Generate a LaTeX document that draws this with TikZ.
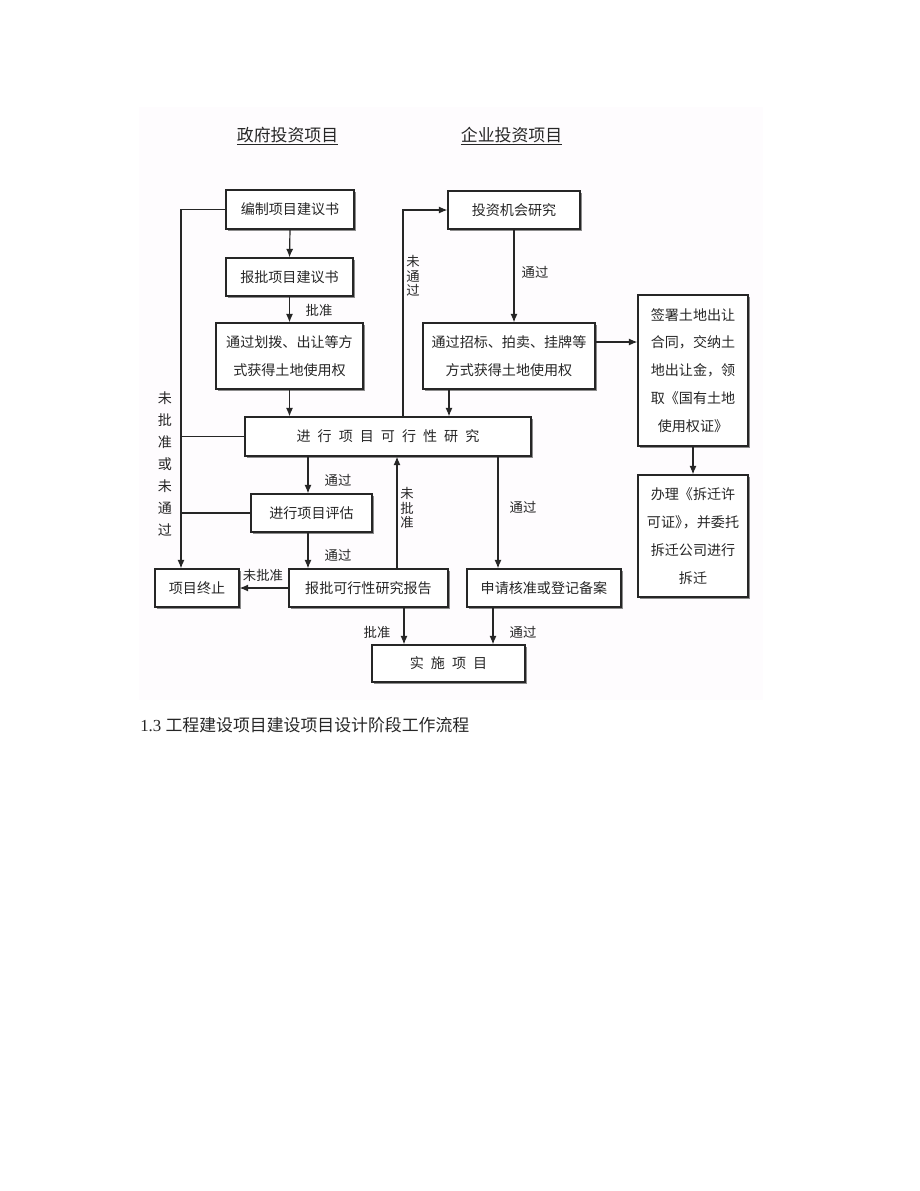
\documentclass[tikz,border=0pt]{standalone}
\usepackage{fontspec}
\setmainfont{Liberation Serif}
\newfontfamily\cjk{Noto Sans CJK SC}
\usetikzlibrary{arrows.meta,shadows}

\definecolor{fondo}{HTML}{FEFCFE}
\definecolor{tinta}{HTML}{262626}

\tikzset{
  caja/.style={draw=tinta, line width=0.9pt, fill=white, inner sep=0pt, align=center,
    minimum height=0.95cm, text=tinta, font=\cjk\fontsize{10}{19.8}\selectfont,
    drop shadow={shadow xshift=1.6pt, shadow yshift=-1.6pt, fill=black!45, opacity=1}},
  flecha/.style={draw=tinta, line width=0.85pt, -{Latex[length=6pt,width=5pt]}},
  linea/.style={draw=tinta, line width=0.85pt},
  etiqueta/.style={font=\cjk\fontsize{9.5}{11}\selectfont, text=tinta, inner sep=0pt, align=center},
  titulo/.style={font=\cjk\fontsize{12}{14}\selectfont, text=tinta, inner sep=0pt},
}

\begin{document}
\begin{tikzpicture}[x=0.025cm, y=-0.025cm]
    % Marco de la pagina y fondo del esquema
    \useasboundingbox (0,0) rectangle (920,1191);
    \fill[fondo] (139,107) rectangle (763,700);

    % Titulos de las dos columnas
    \node[titulo] (tgob) at (287.5,136) {\underline{政府投资项目}};
    \node[titulo] (temp) at (511.5,136) {\underline{企业投资项目}};

    % Cajas de la columna del gobierno
    \node[caja, minimum width=3.2cm, minimum height=0.975cm] (B1) at (290,209.5) {编制项目建议书};
    \node[caja, minimum width=3.175cm] (B2) at (289.5,277) {报批项目建议书};
    \node[caja, minimum width=3.675cm, minimum height=1.65cm] (B3) at (289.5,356)
      {通过划拨、出让等方\\式获得土地使用权};

    % Cajas de la columna de empresas
    \node[caja, minimum width=3.3cm] (E1) at (514,210) {投资机会研究};
    \node[caja, minimum width=4.3cm, minimum height=1.65cm] (E2) at (509,356)
      {通过招标、拍卖、挂牌等\\方式获得土地使用权};
    \node[caja, minimum width=2.75cm, minimum height=3.775cm] (L1) at (693,370.5)
      {签署土地出让\\合同，交纳土\\地出让金，领\\取《国有土地\\使用权证》};
    \node[caja, minimum width=2.75cm, minimum height=3.05cm] (L2) at (693,536)
      {办理《拆迁许\\可证》\kern-0.45em，并委托\\拆迁公司进行\\拆迁};

    % Estudio de factibilidad y pasos siguientes
    \node[caja, minimum width=7.15cm, minimum height=0.975cm] (F) at (388,436.5)
      {进\enspace 行\enspace 项\enspace 目\enspace 可\enspace 行\enspace 性\enspace 研\enspace 究};
    \node[caja, minimum width=3.025cm] (P) at (311.5,513) {进行项目评估};
    \node[caja, minimum width=2.1cm] (T) at (197,588) {项目终止};
    \node[caja, minimum width=3.975cm] (R) at (368.5,588) {报批可行性研究报告};
    \node[caja, minimum width=3.85cm] (A) at (544,588) {申请核准或登记备案};
    \node[caja, minimum width=3.825cm, minimum height=0.925cm] (I) at (448.5,663.5)
      {实\enspace 施\enspace 项\enspace 目};

    % Abscisas de las lineas verticales
    \coordinate (x181) at (181,0);
    \coordinate (x308) at (308,0);
    \coordinate (x397) at (397,0);
    \coordinate (x403) at (403,0);
    \coordinate (x404) at (404,0);
    \coordinate (x449) at (449,0);
    \coordinate (x493) at (493,0);
    \coordinate (x498) at (498,0);
    \coordinate (y342) at (0,342);

    % Flechas de la columna del gobierno
    \draw[flecha] (B1.south) -- (B2.north);
    \draw[flecha] (B2.south) -- (B3.north);
    \draw[flecha] (B3.south) -- (B3.south |- F.north);

    % Flechas de la columna de empresas
    \draw[flecha] (E1.south) -- (E1.south |- E2.north);
    \draw[flecha] (x449 |- E2.south) -- (x449 |- F.north);
    \draw[flecha] (E2.east |- y342) -- (L1.west |- y342);
    \draw[flecha] (L1.south) -- (L2.north);
    \draw[flecha] (x403 |- F.north) -- (x403 |- E1.west) -- (E1.west);

    % Linea de rechazo hacia la terminacion
    \draw[flecha] (B1.west) -- (x181 |- B1.west) -- (x181 |- T.north);
    \draw[linea] (F.west) -- (x181 |- F.west);
    \draw[linea] (P.west) -- (x181 |- P.west);

    % Flechas inferiores
    \draw[flecha] (x308 |- F.south) -- (x308 |- P.north);
    \draw[flecha] (x308 |- P.south) -- (x308 |- R.north);
    \draw[flecha] (R.west) -- (T.east);
    \draw[flecha] (x397 |- R.north) -- (x397 |- F.south);
    \draw[flecha] (x498 |- F.south) -- (x498 |- A.north);
    \draw[flecha] (x404 |- R.south) -- (x404 |- I.north);
    \draw[flecha] (x493 |- A.south) -- (x493 |- I.north);

    % Etiquetas de las flechas
    \node[etiqueta] (e1) at (319,310) {批准};
    \node[etiqueta] (e2) at (535,272) {通过};
    \node[etiqueta] (e3) at (338,480) {通过};
    \node[etiqueta] (e4) at (338,555) {通过};
    \node[etiqueta] (e5) at (263,575) {未批准};
    \node[etiqueta] (e6) at (377,632) {批准};
    \node[etiqueta] (e7) at (523,507) {通过};
    \node[etiqueta] (e8) at (523,632) {通过};
    \node[etiqueta, font=\cjk\fontsize{9.5}{10.2}\selectfont] (e9) at (413,276) {未\\通\\过};
    \node[etiqueta, font=\cjk\fontsize{9.5}{10.3}\selectfont] (e10) at (407,508) {未\\批\\准};
    \node[etiqueta, font=\cjk\fontsize{10}{15.6}\selectfont] (e11) at (165,464) {未\\批\\准\\或\\未\\通\\过};

    % Pie de la figura
    \node[anchor=west, inner sep=0pt, text=tinta, font=\fontsize{12}{14}\selectfont] (pie) at (140,725)
      {1.3 {\cjk 工程建设项目建设项目设计阶段工作流程}};

  \end{tikzpicture}
\end{document}
